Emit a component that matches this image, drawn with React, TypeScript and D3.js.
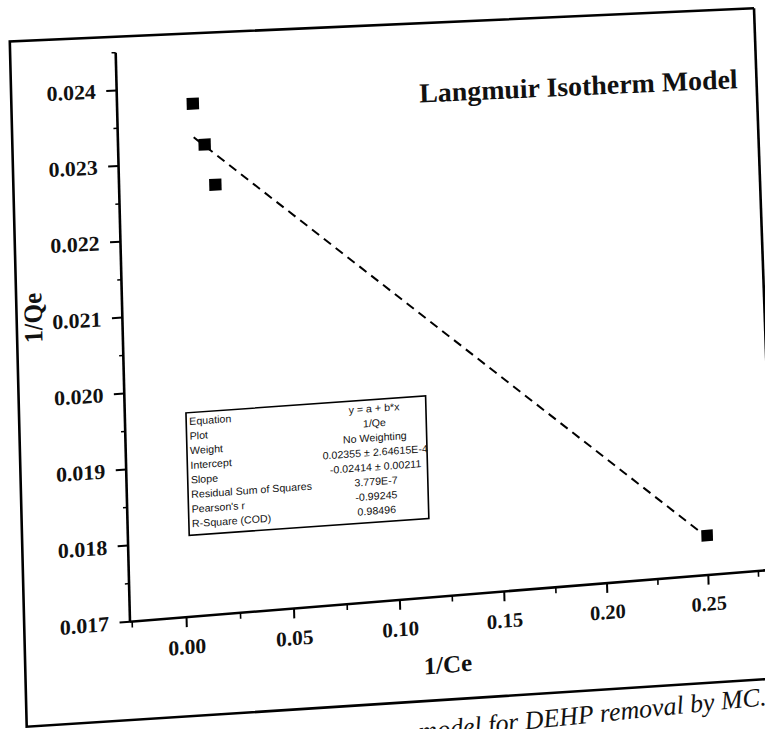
import React from "react";
import * as d3 from "d3";

// ---------- data ----------
const xValues = [0.009, 0.014, 0.0185, 0.25];
const yValues = [0.02378, 0.02323, 0.02269, 0.01754];
const fitIntercept = 0.02355;
const fitSlope = -0.02414;

const yMajorTicks = [0.017, 0.018, 0.019, 0.02, 0.021, 0.022, 0.023, 0.024];
const yMinorTicks = [0.0175, 0.0185, 0.0195, 0.0205, 0.0215, 0.0225, 0.0235, 0.0245];
const xMajorTicks = [0, 0.05, 0.1, 0.15, 0.2, 0.25];
const xMinorTicks = [-0.025, 0.025, 0.075, 0.125, 0.175, 0.225, 0.275];

const tableLabels = [
  "Equation",
  "Plot",
  "Weight",
  "Intercept",
  "Slope",
  "Residual Sum of Squares",
  "Pearson's r",
  "R-Square (COD)",
];
const tableValues = [
  "y = a + b*x",
  "1/Qe",
  "No Weighting",
  "0.02355 ± 2.64615E-4",
  "-0.02414 ± 0.00211",
  "3.779E-7",
  "-0.99245",
  "0.98496",
];

const titleText = "Langmuir Isotherm Model";
const xTitle = "1/Ce";
const yTitle = "1/Qe";
const captionText = "model for DEHP removal by MC.";

// ---------- layout (virtual flat page) ----------
const W = 765;
const H = 729;
const X0 = 130;
const X1 = 708;
const Y0 = 622;
const Y1 = 52;

const xScale = d3.scaleLinear().domain([-0.026, 0.25]).range([X0, X1]);
const yScale = d3.scaleLinear().domain([0.017, 0.0245]).range([Y0, Y1]);

// perspective of the photographed page: virtual plot corners -> screen
const srcQuad: [number, number][] = [
  [X0, Y1],
  [X1, Y1],
  [X0, Y0],
  [X1, Y0],
];
const dstQuad: [number, number][] = [
  [115.7, 52.7],
  [692, 29],
  [130, 621.7],
  [708.3, 575],
];

function solveHomography(src: [number, number][], dst: [number, number][]) {
  const A: number[][] = [];
  for (let i = 0; i < 4; i++) {
    const [x, y] = src[i];
    const [u, v] = dst[i];
    A.push([x, y, 1, 0, 0, 0, -x * u, -y * u, u]);
    A.push([0, 0, 0, x, y, 1, -x * v, -y * v, v]);
  }
  const n = 8;
  for (let c = 0; c < n; c++) {
    let p = c;
    for (let r = c + 1; r < n; r++) if (Math.abs(A[r][c]) > Math.abs(A[p][c])) p = r;
    [A[c], A[p]] = [A[p], A[c]];
    for (let r = 0; r < n; r++) {
      if (r === c) continue;
      const f = A[r][c] / A[c][c];
      for (let k = c; k <= n; k++) A[r][k] -= f * A[c][k];
    }
  }
  return A.map((row, i) => row[n] / row[i]);
}
const Hm = solveHomography(srcQuad, dstQuad);

function warp(x: number, y: number): [number, number] {
  const w = Hm[6] * x + Hm[7] * y + 1;
  return [(Hm[0] * x + Hm[1] * y + Hm[2]) / w, (Hm[3] * x + Hm[4] * y + Hm[5]) / w];
}
function localMatrix(x: number, y: number) {
  const p = warp(x, y);
  const px = warp(x + 1, y);
  const py = warp(x, y + 1);
  return `matrix(${px[0] - p[0]},${px[1] - p[1]},${py[0] - p[0]},${py[1] - p[1]},${p[0]},${p[1]})`;
}
function Seg({ a, b, sw = 2, dash }: { a: [number, number]; b: [number, number]; sw?: number; dash?: string }) {
  const p = warp(a[0], a[1]);
  const q = warp(b[0], b[1]);
  return (
    <line x1={p[0]} y1={p[1]} x2={q[0]} y2={q[1]} stroke="#000" strokeWidth={sw} strokeDasharray={dash} />
  );
}

const serif = "'Liberation Serif', 'Times New Roman', 'DejaVu Serif', serif";
const sans = "'Liberation Sans', Arial, sans-serif";

export default function App() {
  const xEnd = xScale(0.285);
  const fitX0 = xValues[0];
  const fitX1 = xValues[xValues.length - 1];
  const fitA = warp(xScale(fitX0), yScale(fitIntercept + fitSlope * fitX0));
  const fitB = warp(xScale(fitX1), yScale(fitIntercept + fitSlope * fitX1));
  const fitPath = d3.line()([fitA, fitB]) || "";

  // table box (virtual)
  const tbX = 188;
  const tbY = 417;
  const tbW = 236;
  const tbH = 124;
  const tcx = tbX + tbW / 2;
  const tcy = tbY + tbH / 2;

  return (
    <svg
      width={W}
      height={H}
      style={{ position: "absolute", left: 0, top: 0, background: "#fff" }}
    >
      <rect x={0} y={0} width={W} height={H} fill="#fff" />

      {/* page frame of the photographed figure */}
      <polyline points="754,8.3 776,640" fill="none" stroke="#000" strokeWidth={2.6} />
      <polyline
        points="754,8.3 9.8,41.5 26.7,726.7 768,679"
        fill="none"
        stroke="#000"
        strokeWidth={2.6}
      />

      {/* caption below the frame */}
      <text
        transform="translate(767,705) rotate(-5.8)"
        textAnchor="end"
        fontFamily={serif}
        fontStyle="italic"
        fontSize={26}
        fill="#111"
      >
        {captionText}
      </text>

      {/* y axis */}
      <Seg a={[X0, yScale(0.017)]} b={[X0, yScale(0.0245)]} sw={2.6} />
      {yMajorTicks.map((v) => (
        <Seg key={"ym" + v} a={[X0, yScale(v)]} b={[X0 - 10, yScale(v)]} sw={2} />
      ))}
      {yMinorTicks.map((v) => (
        <Seg key={"yn" + v} a={[X0, yScale(v)]} b={[X0 - 4, yScale(v)]} sw={1.5} />
      ))}
      {yMajorTicks.map((v) => (
        <text
          key={"yl" + v}
          transform={localMatrix(X0 - 20, yScale(v) + 7.5)}
          textAnchor="end"
          fontFamily={serif}
          fontWeight="bold"
          fontSize={21}
          fill="#111"
        >
          {d3.format(".3f")(v)}
        </text>
      ))}
      <g transform={localMatrix(45, 313)}>
        <text
          transform="rotate(-90)"
          textAnchor="middle"
          dominantBaseline="central"
          fontFamily={serif}
          fontWeight="bold"
          fontSize={25}
          fill="#111"
        >
          {yTitle}
        </text>
      </g>

      {/* x axis */}
      <Seg a={[X0, Y0]} b={[xEnd, Y0]} sw={2.6} />
      {xMajorTicks.map((v) => (
        <Seg key={"xm" + v} a={[xScale(v), Y0]} b={[xScale(v), Y0 + 10]} sw={2} />
      ))}
      {xMinorTicks.map((v) => (
        <Seg key={"xn" + v} a={[xScale(v), Y0]} b={[xScale(v), Y0 + 6]} sw={1.6} />
      ))}
      {xMajorTicks.map((v) => (
        <text
          key={"xl" + v}
          transform={localMatrix(xScale(v), Y0 + 37)}
          textAnchor="middle"
          fontFamily={serif}
          fontWeight="bold"
          fontSize={21}
          fill="#111"
        >
          {d3.format(".2f")(v)}
        </text>
      ))}
      <text
        transform={localMatrix(xScale(0.122), Y0 + 78)}
        textAnchor="middle"
        fontFamily={serif}
        fontWeight="bold"
        fontSize={25}
        fill="#111"
      >
        {xTitle}
      </text>

      {/* title */}
      <text
        transform={localMatrix(427, 116)}
        fontFamily={serif}
        fontWeight="bold"
        fontSize={28}
        fill="#111"
      >
        {titleText}
      </text>

      {/* linear fit */}
      <path d={fitPath} fill="none" stroke="#000" strokeWidth={2} strokeDasharray="9,6" />

      {/* data points */}
      {xValues.map((x, i) => (
        <rect
          key={"p" + i}
          x={-6}
          y={-6}
          width={12}
          height={12}
          fill="#000"
          transform={localMatrix(xScale(x), yScale(yValues[i]))}
        />
      ))}

      {/* fit statistics table */}
      <g transform={localMatrix(tcx, tcy)}>
        <rect
          x={-tbW / 2}
          y={-tbH / 2}
          width={tbW}
          height={tbH}
          fill="#fff"
          stroke="#000"
          strokeWidth={1.6}
        />
        {tableLabels.map((l, i) => (
          <text
            key={"tl" + i}
            x={-tbW / 2 + 3}
            y={-tbH / 2 + 12.5 + i * 14.8}
            fontFamily={sans}
            fontSize={10.5}
            fill="#111"
          >
            {l}
          </text>
        ))}
        {tableValues.map((v, i) => (
          <text
            key={"tv" + i}
            x={67}
            y={-tbH / 2 + 12.5 + i * 14.8}
            textAnchor="middle"
            fontFamily={sans}
            fontSize={10.5}
            fill="#111"
          >
            {v}
          </text>
        ))}
      </g>
    </svg>
  );
}
